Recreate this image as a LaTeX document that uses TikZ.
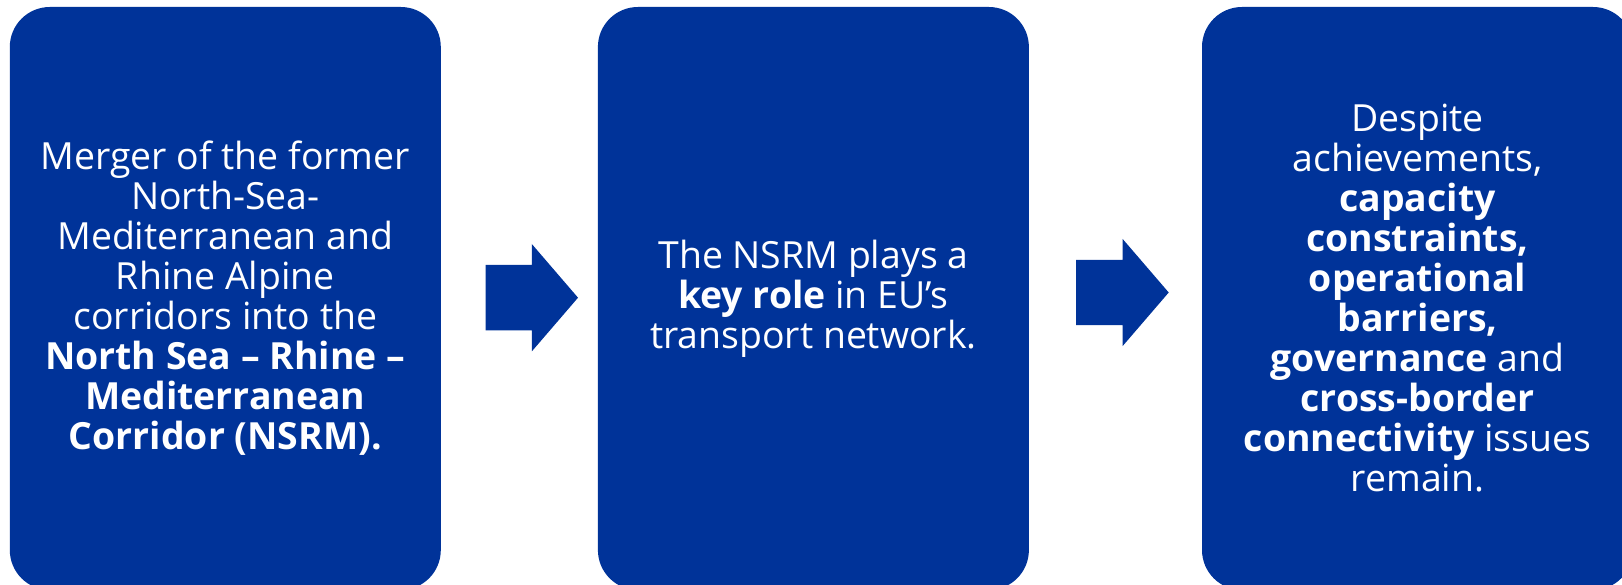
\documentclass[tikz,border=0pt]{standalone}
\usepackage{xcolor}
\usepackage{fontspec}
\setmainfont{Open Sans}
\usepackage{tikz}
\usetikzlibrary{shapes.arrows, positioning}
\definecolor{eublue}{RGB}{0, 51, 153}

\begin{document}
\begin{tikzpicture}[
    x=1pt, y=-1pt,
    card/.style={fill=eublue, draw=none, rounded corners=40pt,
                 minimum width=431pt, minimum height=583pt, inner sep=0pt,
                 text=white, align=center,
                 font=\fontsize{37.4}{40}\selectfont},
    blockarrow/.style={single arrow, fill=eublue, draw=none, inner sep=0pt,
                       text height=32.5pt, text depth=32.5pt, text width=0pt,
                       minimum height=92.5pt,
                       single arrow head extend=21pt, single arrow tip angle=98.6},
]
    \useasboundingbox (0,0) rectangle (1622,585);

    % Main cards
    \node[card] (merger) at (225.3,298.5) {Merger of the former\\North-Sea-\\Mediterranean and\\Rhine Alpine\\corridors into the\\\textbf{North Sea – Rhine –}\\\textbf{Mediterranean}\\\textbf{Corridor (NSRM).}};
    \node[card, right=156.7pt of merger] (role) {The NSRM plays a\\\textbf{key role} in EU’s\\transport network.};
    \node[card, right=172.7pt of role] (issues) {Despite\\achievements,\\\textbf{capacity}\\\textbf{constraints,}\\\textbf{operational}\\\textbf{barriers,}\\\textbf{governance} and\\\textbf{cross-border}\\\textbf{connectivity} issues\\remain.};

    % Arrows
    \node[blockarrow, anchor=tail] (arrowA) at (485.3,297.7) {};
    \node[blockarrow, anchor=tail] (arrowB) at (1076,292.5) {};
\end{tikzpicture}
\end{document}
